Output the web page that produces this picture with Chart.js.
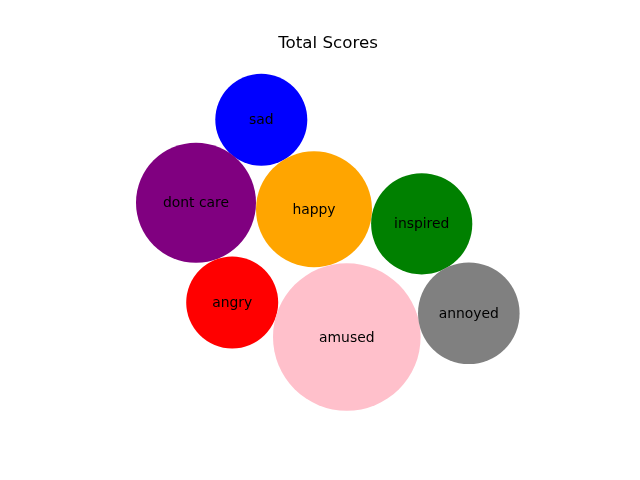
<!DOCTYPE html>
<html>
<head>
<meta charset="utf-8">
<script src="https://cdn.jsdelivr.net/npm/chart.js@4/dist/chart.umd.min.js"></script>
<style>
  html, body { margin: 0; padding: 0; background: #ffffff; }
  #wrap { width: 640px; height: 480px; position: relative; }
</style>
</head>
<body>
<div id="wrap"><canvas id="c"></canvas></div>
<script>
const categories = ['sad', 'dont care', 'happy', 'inspired', 'angry', 'amused', 'annoyed'];
const xValues = [-66.7, -132.0, -14.0, 93.7, -95.8, 18.8, 140.8];
const yValues = [120.3, 37.3, 30.8, 16.2, -62.5, -97.0, -73.2];
const radii = [46, 60, 58, 50.6, 46, 73.8, 50.8];
const colors = ['#0000ff', '#800080', '#ffa500', '#008000', '#ff0000', '#ffc0cb', '#808080'];

const points = categories.map((c, i) => ({ x: xValues[i], y: yValues[i], r: radii[i] }));

const labelPlugin = {
  id: 'bubbleLabels',
  afterDatasetsDraw(chart) {
    const ctx = chart.ctx;
    const meta = chart.getDatasetMeta(0);
    ctx.save();
    ctx.font = '13.9px "DejaVu Sans"';
    ctx.fillStyle = '#000000';
    ctx.textAlign = 'center';
    ctx.textBaseline = 'middle';
    meta.data.forEach((el, i) => {
      ctx.fillText(categories[i], el.x, el.y + 1);
    });
    ctx.restore();
  }
};

new Chart(document.getElementById('c'), {
  type: 'bubble',
  data: {
    labels: categories,
    datasets: [{
      data: points,
      backgroundColor: colors,
      borderWidth: 0,
      hoverBorderWidth: 0
    }]
  },
  options: {
    responsive: true,
    maintainAspectRatio: false,
    animation: false,
    layout: { autoPadding: false, padding: { left: 80, right: 64, top: 0, bottom: 58 } },
    plugins: {
      legend: { display: false },
      tooltip: { enabled: false },
      title: {
        display: true,
        text: 'Total Scores',
        fullSize: false,
        color: '#000000',
        font: { family: 'DejaVu Sans', size: 16.7, weight: 'normal', lineHeight: 1.2 },
        padding: { top: 34, bottom: 4 }
      }
    },
    scales: {
      x: { type: 'linear', display: false, min: -248, max: 248 },
      y: { type: 'linear', display: false, min: -182, max: 182 }
    }
  },
  plugins: [labelPlugin]
});
</script>
</body>
</html>
